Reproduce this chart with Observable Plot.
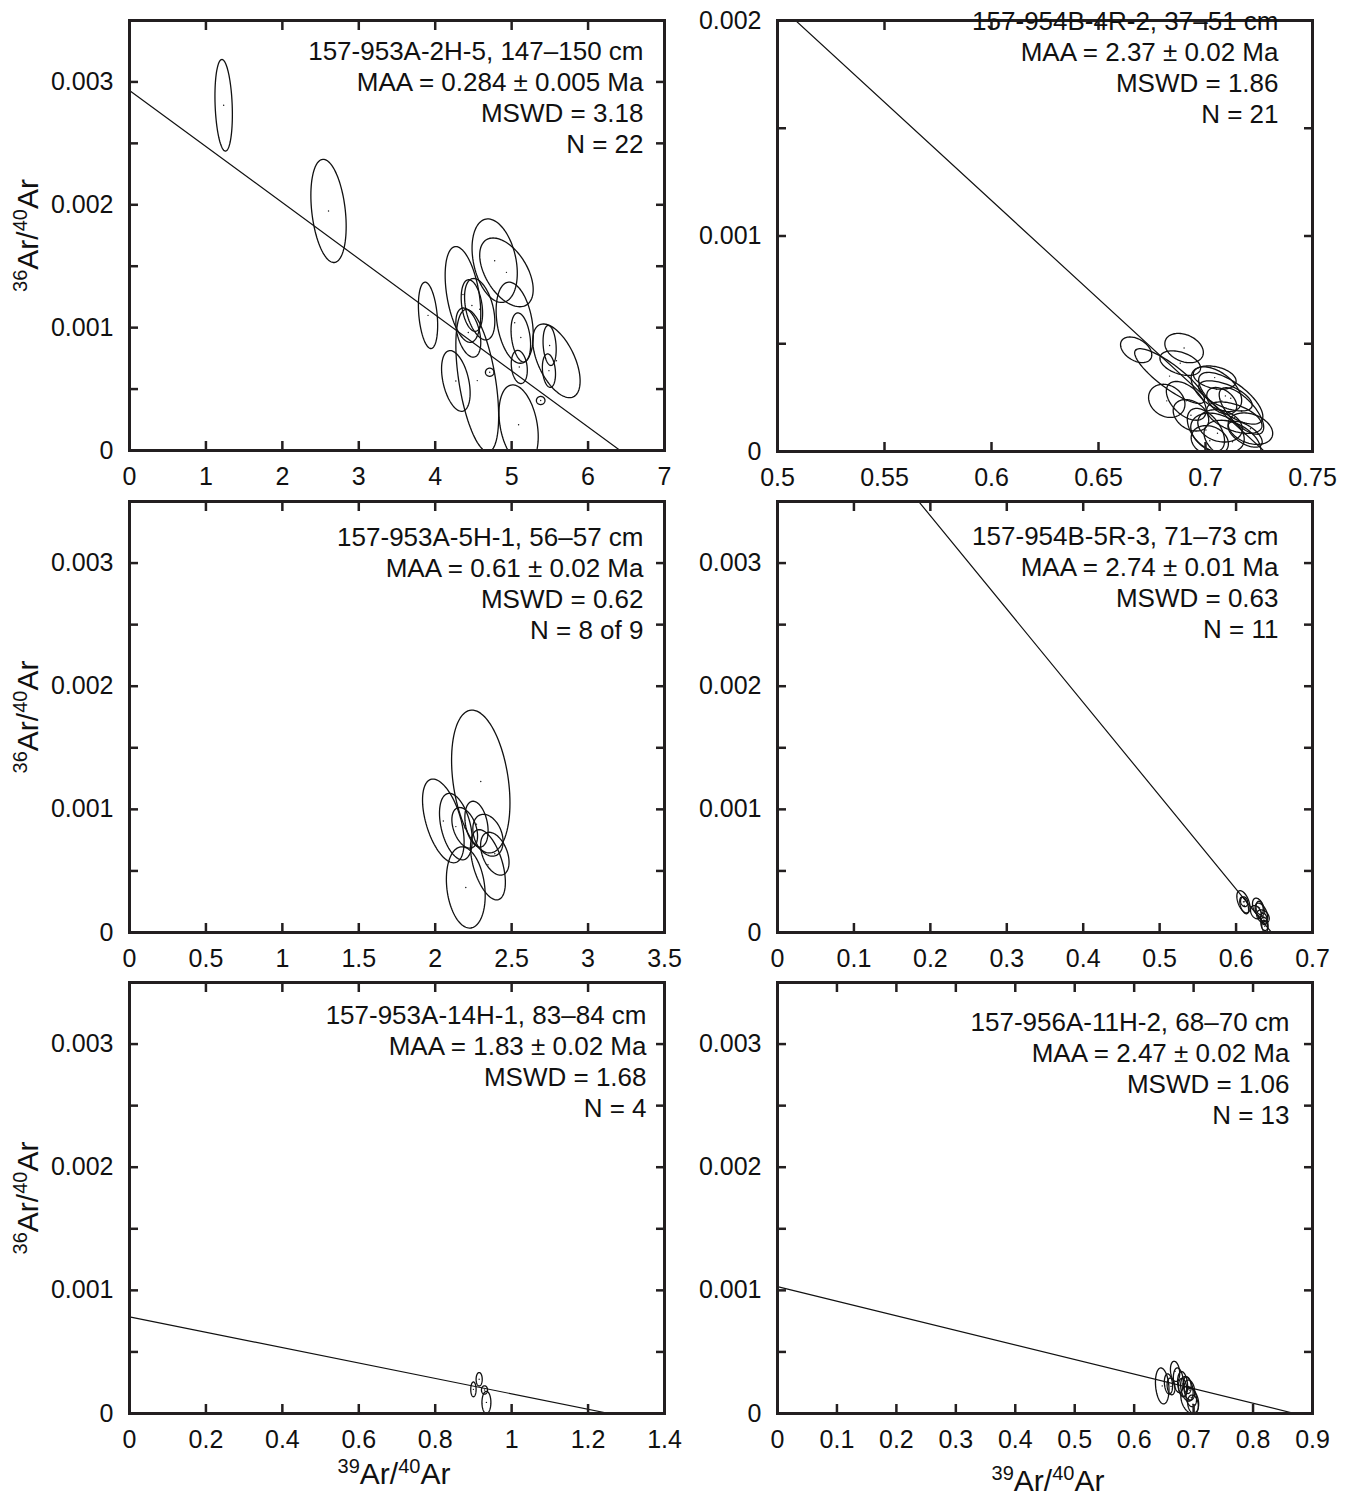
<!DOCTYPE html>
<html><head><meta charset="utf-8">
<script src="https://cdn.jsdelivr.net/npm/d3@7"></script>
<script src="https://cdn.jsdelivr.net/npm/@observablehq/plot@0.6"></script>
<style>
body{margin:0;background:#fff;}
#wrap{position:relative;width:1351px;height:1497px;overflow:hidden;background:#fff;}
#wrap svg{position:absolute;}
</style></head><body><div id="wrap"></div>
<script>
// ---------- DATA ----------
// each ellipse: [x centre, y centre, x half-error, y half-error, error correlation]
const ell_953A_2H5 = [
  [1.232, 0.00281, 0.114, 0.000373, -0.2],
  [2.604, 0.00195, 0.231, 0.00042, -0.3],
  [3.906, 0.0011, 0.126, 0.00027, -0.3],
  [4.778, 0.001545, 0.296, 0.00034, -0.3],
  [4.932, 0.00145, 0.35, 0.00028, -0.5],
  [4.363, 0.00127, 0.233, 0.00039, -0.4],
  [4.48, 0.00118, 0.14, 0.00021, -0.3],
  [4.582, 0.00115, 0.198, 0.00025, -0.4],
  [4.433, 0.00096, 0.163, 0.0002, -0.4],
  [5.04, 0.00104, 0.243, 0.00033, -0.3],
  [5.12, 0.00092, 0.128, 0.0002, -0.3],
  [5.10, 0.00068, 0.105, 0.000135, -0.2],
  [5.586, 0.00073, 0.31, 0.0003, -0.55],
  [5.497, 0.000855, 0.086, 0.000163, -0.2],
  [5.488, 0.00065, 0.086, 0.000136, -0.2],
  [4.713, 0.000637, 0.056, 0.000033, 0],
  [5.38, 0.000407, 0.056, 0.000033, 0],
  [4.27, 0.000566, 0.187, 0.000247, -0.4],
  [4.55, 0.000569, 0.28, 0.00058, -0.5],
  [5.091, 0.000209, 0.257, 0.000325, -0.3]
];
const ell_954B_4R2 = [
  [0.6676, 0.000472, 0.0073, 0.0000594, -0.4],
  [0.6900, 0.00048, 0.0090, 0.000068, -0.3],
  [0.6832, 0.00035, 0.0163, 0.000127, -0.85],
  [0.6882, 0.00041, 0.0095, 0.000057, -0.4],
  [0.6819, 0.000235, 0.0085, 0.000077, -0.2],
  [0.6910, 0.000235, 0.0093, 0.00009, -0.5],
  [0.6932, 0.000168, 0.0083, 0.000073, -0.3],
  [0.7051, 0.000289, 0.0118, 0.000104, -0.5],
  [0.7118, 0.000247, 0.0150, 0.00012, -0.7],
  [0.7093, 0.000258, 0.0125, 0.00007, -0.6],
  [0.7210, 0.000106, 0.0104, 0.000073, -0.3],
  [0.7068, 0.000119, 0.0104, 0.000075, -0.2],
  [0.7056, 0.000085, 0.0125, 0.000093, -0.3],
  [0.7126, 0.000045, 0.0133, 0.0001, -0.4],
  [0.7135, 0.000157, 0.0129, 0.000073, -0.5],
  [0.7168, 0.000188, 0.0104, 0.000108, -0.7],
  [0.7002, 0.0001, 0.0087, 0.0001, -0.5],
  [0.7076, 0.000235, 0.007, 0.000062, -0.4],
  [0.7020, 0.00005, 0.0087, 0.00007, -0.2],
  [0.7185, 0.00008, 0.008, 0.00006, -0.6],
  [0.7043, 0.000343, 0.010, 0.000054, -0.3]
];
const ell_953A_5H1 = [
  [2.298, 0.001226, 0.191, 0.00058, -0.3],
  [2.053, 0.000906, 0.136, 0.00034, -0.5],
  [2.135, 0.00086, 0.107, 0.00027, -0.4],
  [2.193, 0.00085, 0.084, 0.000165, -0.4],
  [2.27, 0.00088, 0.076, 0.000186, -0.3],
  [2.345, 0.00079, 0.099, 0.00017, -0.3],
  [2.39, 0.00064, 0.093, 0.000174, -0.4],
  [2.20, 0.000366, 0.127, 0.00033, -0.2],
  [2.345, 0.00055, 0.114, 0.000285, -0.5]
];
const ell_954B_5R3 = [
  [0.6096, 0.000249, 0.0086, 0.0000905, -0.5],
  [0.6106, 0.00022, 0.0058, 0.000068, -0.5],
  [0.6292, 0.000205, 0.0077, 0.000074, -0.4],
  [0.6331, 0.000165, 0.0082, 0.000074, -0.5],
  [0.6259, 0.000165, 0.007, 0.000054, -0.3],
  [0.6352, 0.00013, 0.0082, 0.000054, -0.3],
  [0.6371, 0.00007, 0.0047, 0.000054, -0.2],
  [0.6308, 0.0002, 0.0047, 0.000054, -0.2],
  [0.6364, 0.00011, 0.0042, 0.000047, -0.2],
  [0.6106, 0.00025, 0.0047, 0.00004, -0.2],
  [0.6376, 0.00005, 0.004, 0.000047, -0.2]
];
const ell_953A_14H1 = [
  [0.915, 0.000278, 0.008, 0.0000545, 0],
  [0.900, 0.000196, 0.007, 0.00006, 0],
  [0.929, 0.000191, 0.008, 0.000034, 0],
  [0.934, 0.00009, 0.0117, 0.00009, 0]
];
const ell_956A_11H2 = [
  [0.6472, 0.000224, 0.0114, 0.000146, -0.2],
  [0.6688, 0.000342, 0.0078, 0.000082, -0.2],
  [0.6577, 0.00024, 0.0069, 0.000082, -0.2],
  [0.6743, 0.00027, 0.0084, 0.0001, -0.2],
  [0.6815, 0.00024, 0.0084, 0.0001, -0.2],
  [0.6887, 0.0002, 0.0105, 0.0001, -0.3],
  [0.6935, 0.00011, 0.015, 0.00011, -0.3],
  [0.6893, 0.00023, 0.0066, 0.000068, -0.2],
  [0.6929, 0.00019, 0.009, 0.000082, -0.2],
  [0.6960, 0.00013, 0.009, 0.000075, -0.2],
  [0.6815, 0.00021, 0.0069, 0.000075, -0.2],
  [0.6990, 0.000075, 0.009, 0.000075, -0.2],
  [0.6620, 0.00022, 0.0066, 0.000068, -0.2]
];
// isochron lines: [y-intercept (36Ar/40Ar at x=0), x-intercept (39Ar/40Ar at y=0)]
const iso_953A_2H5 = [0.00293, 6.42];
const iso_954B_4R2 = [0.00664, 0.7276];
const iso_954B_5R3 = [0.0049, 0.6465];
const iso_953A_14H1 = [0.000785, 1.2554];
const iso_956A_11H2 = [0.00103, 0.87];

// annotation texts
const note_953A_2H5 = ["157-953A-2H-5, 147–150 cm", "MAA = 0.284 ± 0.005 Ma", "MSWD = 3.18", "N = 22"];
const note_954B_4R2 = ["157-954B-4R-2, 37–51 cm", "MAA = 2.37 ± 0.02 Ma", "MSWD = 1.86", "N = 21"];
const note_953A_5H1 = ["157-953A-5H-1, 56–57 cm", "MAA = 0.61 ± 0.02 Ma", "MSWD = 0.62", "N = 8 of 9"];
const note_954B_5R3 = ["157-954B-5R-3, 71–73 cm", "MAA = 2.74 ± 0.01 Ma", "MSWD = 0.63", "N = 11"];
const note_953A_14H1 = ["157-953A-14H-1, 83–84 cm", "MAA = 1.83 ± 0.02 Ma", "MSWD = 1.68", "N = 4"];
const note_956A_11H2 = ["157-956A-11H-2, 68–70 cm", "MAA = 2.47 ± 0.02 Ma", "MSWD = 1.06", "N = 13"];

// ticks
const xTicks_0_7 = [0, 1, 2, 3, 4, 5, 6, 7];
const xTicks_05_075 = [0.5, 0.55, 0.6, 0.65, 0.7, 0.75];
const xTicks_0_35 = [0, 0.5, 1, 1.5, 2, 2.5, 3, 3.5];
const xTicks_0_07 = [0, 0.1, 0.2, 0.3, 0.4, 0.5, 0.6, 0.7];
const xTicks_0_14 = [0, 0.2, 0.4, 0.6, 0.8, 1, 1.2, 1.4];
const xTicks_0_09 = [0, 0.1, 0.2, 0.3, 0.4, 0.5, 0.6, 0.7, 0.8, 0.9];
const yTicks_35 = [0, 0.0005, 0.001, 0.0015, 0.002, 0.0025, 0.003, 0.0035];
const yLabels_35 = [0, 0.001, 0.002, 0.003];
const yTicks_20 = [0, 0.0005, 0.001, 0.0015, 0.002];
const yLabels_20 = [0, 0.001, 0.002];

// axis titles: [text, superscript?]
const yTitleParts = [["36", true], ["Ar/", false], ["40", true], ["Ar", false]];
const xTitleParts = [["39", true], ["Ar/", false], ["40", true], ["Ar", false]];

// ---------- LAYOUT ----------
const FONT = '"Liberation Sans", Arial, Helvetica, sans-serif';
const INK = "#231f20";
const ML = 120, MR = 25, MT = 15, MB = 90;
const TITLE_SIZE = 30, SUP_SIZE = 20, SUP_SHIFT = 11;

const panels = [
  {L:129, R:664, T:20, B:450, xd:[0,7], yd:[0,0.0035], xt:xTicks_0_7, yt:yTicks_35, yl:yLabels_35, ell:ell_953A_2H5, iso:iso_953A_2H5, note:note_953A_2H5, nx:21, ny:31, yTitle:true},
  {L:777, R:1312, T:20, B:451, xd:[0.5,0.75], yd:[0,0.002], xt:xTicks_05_075, yt:yTicks_20, yl:yLabels_20, ell:ell_954B_4R2, iso:iso_954B_4R2, note:note_954B_4R2, nx:34, ny:1},
  {L:129, R:664, T:501, B:932, xd:[0,3.5], yd:[0,0.0035], xt:xTicks_0_35, yt:yTicks_35, yl:yLabels_35, ell:ell_953A_5H1, iso:null, note:note_953A_5H1, nx:21, ny:36, yTitle:true},
  {L:777, R:1312, T:501, B:932, xd:[0,0.7], yd:[0,0.0035], xt:xTicks_0_07, yt:yTicks_35, yl:yLabels_35, ell:ell_954B_5R3, iso:iso_954B_5R3, note:note_954B_5R3, nx:34, ny:35},
  {L:129, R:664, T:982, B:1413, xd:[0,1.4], yd:[0,0.0035], xt:xTicks_0_14, yt:yTicks_35, yl:yLabels_35, ell:ell_953A_14H1, iso:iso_953A_14H1, note:note_953A_14H1, nx:18, ny:33, yTitle:true, xTitle:[-3, 61]},
  {L:777, R:1312, T:982, B:1413, xd:[0,0.9], yd:[0,0.0035], xt:xTicks_0_09, yt:yTicks_35, yl:yLabels_35, ell:ell_956A_11H2, iso:iso_956A_11H2, note:note_956A_11H2, nx:23, ny:40, xTitle:[3, 68]}
];

function outline(list, steps = 96) {
  const pts = [];
  list.forEach(([cx, cy, sx, sy, rho], id) => {
    const k = Math.sqrt(1 - rho * rho);
    for (let i = 0; i < steps; i++) {
      const t = 2 * Math.PI * i / steps;
      pts.push({id, x: cx + sx * Math.cos(t), y: cy + sy * (rho * Math.cos(t) + k * Math.sin(t))});
    }
  });
  return pts;
}
const joinParts = parts => parts.map(d => d[0]).join("");

// rebuild a plain text label into tspans with true superscripts
function superscript(svg, parts) {
  const label = joinParts(parts);
  svg.querySelectorAll("text").forEach(t => {
    if (t.textContent !== label) return;
    while (t.firstChild) t.removeChild(t.firstChild);
    let raised = false;
    for (const [s, sup] of parts) {
      const ts = document.createElementNS("http://www.w3.org/2000/svg", "tspan");
      ts.textContent = s;
      ts.setAttribute("font-size", sup ? SUP_SIZE : TITLE_SIZE);
      if (sup && !raised) { ts.setAttribute("dy", -SUP_SHIFT); raised = true; }
      else if (!sup && raised) { ts.setAttribute("dy", SUP_SHIFT); raised = false; }
      t.appendChild(ts);
    }
  });
}

const fmt = d => String(d);
const wrap = document.getElementById("wrap");

for (const p of panels) {
  const marks = [
    Plot.line(outline(p.ell), {x: "x", y: "y", z: "id", curve: "linear-closed", stroke: "#111", strokeWidth: 1.3, clip: true}),
    Plot.dot(p.ell, {x: d => d[0], y: d => d[1], r: 0.7, fill: "#111", stroke: null, clip: true})
  ];
  if (p.iso) {
    marks.push(Plot.line([{x: 0, y: p.iso[0]}, {x: p.iso[1], y: 0}], {x: "x", y: "y", stroke: "#111", strokeWidth: 1.2, clip: true}));
  }
  marks.push(
    Plot.frame({stroke: INK, strokeWidth: 3}),
    Plot.axisX(p.xt, {anchor: "bottom", tickSize: 9, dy: -9, fill: "none", stroke: INK, strokeWidth: 2.5, label: null}),
    Plot.axisX(p.xt, {anchor: "top", tickSize: 9, dy: 9, fill: "none", stroke: INK, strokeWidth: 2.5, label: null}),
    Plot.axisY(p.yt, {anchor: "left", tickSize: 9, dx: 9, fill: "none", stroke: INK, strokeWidth: 2.5, label: null}),
    Plot.axisY(p.yt, {anchor: "right", tickSize: 9, dx: -9, fill: "none", stroke: INK, strokeWidth: 2.5, label: null}),
    Plot.axisX(p.xt, {anchor: "bottom", tickSize: 0, tickPadding: 17, tickFormat: fmt, fill: "#111", label: null}),
    Plot.axisY(p.yl, {anchor: "left", tickSize: 0, tickPadding: 16, tickFormat: fmt, fill: "#111", label: null})
  );
  p.note.forEach((line, i) => {
    marks.push(Plot.text([line], {text: d => d, frameAnchor: "top-right", dx: -p.nx, dy: p.ny + i * 31, textAnchor: "end", lineAnchor: "middle", fontSize: 26, fill: "#111"}));
  });
  if (p.yTitle) {
    marks.push(Plot.text([joinParts(yTitleParts)], {text: d => d, frameAnchor: "left", dx: -101, rotate: -90, textAnchor: "middle", lineAnchor: "middle", fontSize: TITLE_SIZE, fill: "#111"}));
  }
  if (p.xTitle) {
    marks.push(Plot.text([joinParts(xTitleParts)], {text: d => d, frameAnchor: "bottom", dx: p.xTitle[0], dy: p.xTitle[1], textAnchor: "middle", lineAnchor: "middle", fontSize: TITLE_SIZE, fill: "#111"}));
  }
  const chart = Plot.plot({
    width: (p.R - p.L) + ML + MR,
    height: (p.B - p.T) + MT + MB,
    marginLeft: ML, marginRight: MR, marginTop: MT, marginBottom: MB,
    x: {domain: p.xd},
    y: {domain: p.yd},
    style: {fontFamily: FONT, fontSize: "25px", color: "#111", background: "none", overflow: "visible"},
    marks
  });
  superscript(chart, yTitleParts);
  superscript(chart, xTitleParts);
  chart.style.left = (p.L - ML) + "px";
  chart.style.top = (p.T - MT) + "px";
  chart.style.maxWidth = "none";
  wrap.appendChild(chart);
}
</script></body></html>
